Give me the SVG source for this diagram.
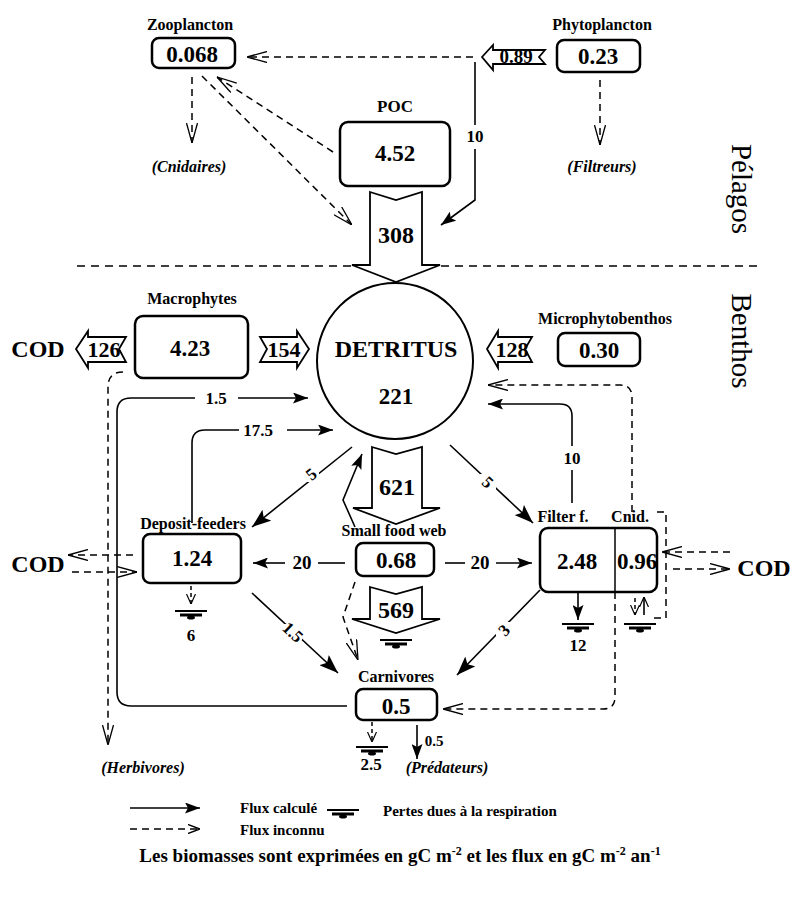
<svg xmlns="http://www.w3.org/2000/svg" xmlns:xlink="http://www.w3.org/1999/xlink" width="790" height="902" viewBox="0 0 790 902">
<style>
text{font-family:"Liberation Serif","Times New Roman",serif;fill:#000}
.lbl{font-weight:bold;font-size:16px;text-anchor:middle}
.leg{font-weight:bold;font-size:15px}
.num{font-weight:bold;font-size:23px;text-anchor:middle}
.big{font-weight:bold;font-size:24px;text-anchor:middle}
.sm{font-weight:bold;font-size:17px;text-anchor:middle}
.it{font-weight:bold;font-style:italic;font-size:16px;text-anchor:middle}
.zone{font-size:29px;text-anchor:middle}
.box{fill:#fff;stroke:#000;stroke-width:2.5}
.ln{fill:none;stroke:#000;stroke-width:1.6}
.dl{fill:none;stroke:#000;stroke-width:1.5;stroke-dasharray:7 5}
.fat{fill:#fff;stroke:#000;stroke-width:1.8;stroke-linejoin:miter}
</style>
<defs>
<marker id="fa" viewBox="0 0 15 11" refX="15" refY="5.5" markerWidth="15" markerHeight="11" markerUnits="userSpaceOnUse" orient="auto"><path d="M0,0 L15,5.5 L0,11 L3,5.5 Z" fill="#000"/></marker>
<marker id="fb" viewBox="0 0 19 14" refX="19" refY="7" markerWidth="19" markerHeight="14" markerUnits="userSpaceOnUse" orient="auto"><path d="M0,0 L19,7 L0,14 L4,7 Z" fill="#000"/></marker>
<marker id="oa" viewBox="0 0 20 12" refX="20" refY="6" markerWidth="20" markerHeight="12" markerUnits="userSpaceOnUse" orient="auto"><path d="M0,0.5 L20,6 L0,11.5" fill="none" stroke="#000" stroke-width="1.3"/></marker>
<marker id="om" viewBox="0 0 12 10" refX="12" refY="5" markerWidth="12" markerHeight="10" markerUnits="userSpaceOnUse" orient="auto"><path d="M0,0.5 L12,5 L0,9.5" fill="none" stroke="#000" stroke-width="1.4"/></marker>
<marker id="os" viewBox="0 0 10 10" refX="10" refY="5" markerWidth="10" markerHeight="10" markerUnits="userSpaceOnUse" orient="auto"><path d="M0,0.5 L10,5 L0,9.5" fill="none" stroke="#000" stroke-width="1.2"/></marker>
<g id="resp">
<line x1="-16" y1="0" x2="16" y2="0" stroke="#000" stroke-width="2"/>
<line x1="-11" y1="4" x2="11" y2="4" stroke="#000" stroke-width="3"/>
<ellipse cx="0" cy="6.5" rx="4" ry="2" fill="#000"/>
</g>
</defs>

<!-- zone separator and zone labels -->
<g id="zones">
<line x1="77" y1="266" x2="760" y2="266" stroke="#000" stroke-width="1.6" stroke-dasharray="8 6"/>
<text class="zone" transform="translate(742,189) rotate(90)" dy="10">Pélagos</text>
<text class="zone" transform="translate(742,341) rotate(90)" dy="10">Benthos</text>
</g>

<!-- connectors -->
<g id="connectors">
<line class="dl" x1="473" y1="57" x2="247" y2="57" marker-end="url(#oa)"/>
<polyline class="ln" points="475,62 475,125"/>
<polyline class="ln" points="475,149 475,200 441,225" marker-end="url(#fa)"/>
<text class="sm" x="475" y="142">10</text>
<line class="dl" x1="192" y1="77" x2="192" y2="143" marker-end="url(#oa)"/>
<line class="dl" x1="333" y1="152" x2="217" y2="77" marker-end="url(#oa)"/>
<line class="dl" x1="202" y1="76" x2="352" y2="225" marker-end="url(#oa)"/>
<line class="dl" x1="600" y1="80" x2="600" y2="145" marker-end="url(#oa)"/>

<path class="ln" d="M347,706 L131,706 Q117,706 117,692 L117,412 Q117,398 131,398 L195,398"/>
<line class="ln" x1="238" y1="398" x2="308" y2="398" marker-end="url(#fa)"/>
<text class="sm" x="216" y="404">1.5</text>
<path class="dl" d="M123,372 Q108,372 108,387 L108,745" marker-end="url(#oa)"/>
<path class="ln" d="M192,523 L192,443 Q192,430 205,430 L239,430"/>
<line class="ln" x1="287" y1="430" x2="333" y2="430" marker-end="url(#fa)"/>
<text class="sm" x="258" y="436">17.5</text>
<line class="ln" x1="352" y1="447" x2="252" y2="527" marker-end="url(#fb)"/>
<rect x="303" y="466" width="16" height="16" fill="#fff"/>
<text class="sm" transform="translate(311,474) rotate(-39)" dy="6">5</text>
<polyline class="ln" points="355,527 343,500 362,454" marker-end="url(#fa)"/>
<line class="ln" x1="450" y1="445" x2="533" y2="523" marker-end="url(#fb)"/>
<rect x="480" y="474" width="16" height="16" fill="#fff"/>
<text class="sm" transform="translate(488,482) rotate(43)" dy="6">5</text>
<path class="ln" d="M572,503 L572,470"/>
<path class="ln" d="M572,446 L572,416 Q572,404 560,404 L488,404" marker-end="url(#fa)"/>
<text class="sm" x="572" y="464">10</text>
<path class="dl" d="M632,512 L632,397 Q632,385 620,385 L488,385" marker-end="url(#oa)"/>
<path class="dl" d="M657,512 L666,512 L666,618 L651,618"/>
<path class="dl" d="M615,592 L615,697 Q615,709 603,709 L443,709" marker-end="url(#oa)"/>
<line class="ln" x1="345" y1="563" x2="318" y2="563"/>
<line class="ln" x1="285" y1="563" x2="253" y2="563" marker-end="url(#fa)"/>
<text class="sm" x="302" y="569" style="font-size:19px">20</text>
<line class="ln" x1="445" y1="563" x2="465" y2="563"/>
<line class="ln" x1="496" y1="563" x2="532" y2="563" marker-end="url(#fa)"/>
<text class="sm" x="480" y="569" style="font-size:19px">20</text>
<line class="dl" x1="133" y1="555" x2="68" y2="555" marker-end="url(#oa)"/>
<line class="dl" x1="72" y1="572" x2="137" y2="572" marker-end="url(#oa)"/>
<line class="dl" x1="730" y1="552" x2="662" y2="552" marker-end="url(#oa)"/>
<line class="dl" x1="673" y1="569" x2="730" y2="569" marker-end="url(#oa)"/>
<line class="ln" x1="252" y1="593" x2="338" y2="673" marker-end="url(#fb)"/>
<rect x="284" y="624" width="18" height="16" fill="#fff"/>
<text class="sm" transform="translate(293,632) rotate(43)" dy="6">1.5</text>
<line class="ln" x1="540" y1="590" x2="457" y2="675" marker-end="url(#fb)"/>
<rect x="496" y="622" width="16" height="16" fill="#fff"/>
<text class="sm" transform="translate(504,630) rotate(-46)" dy="6">3</text>
<polyline class="dl" points="355,582 343,617 358,660" marker-end="url(#oa)"/>
<line class="dl" x1="191" y1="586" x2="191" y2="604" style="stroke-dasharray:4 3" marker-end="url(#os)"/>
<line class="ln" x1="578" y1="592" x2="578" y2="620" marker-end="url(#fa)"/>
<line class="dl" x1="635" y1="598" x2="635" y2="615" style="stroke-dasharray:4 3" marker-end="url(#os)"/>
<line class="ln" x1="644" y1="615" x2="644" y2="597" marker-end="url(#os)"/>
<line class="dl" x1="372" y1="722" x2="372" y2="742" style="stroke-dasharray:4 3" marker-end="url(#os)"/>
<line class="ln" x1="417" y1="725" x2="417" y2="759" marker-end="url(#fa)"/>
</g>

<!-- fat flux arrows -->
<g id="flux308">
<polygon class="fat" points="370,192 396,200 422,192 422,265 440,265 396,282 352,265 370,265"/>
<text class="big" x="396" y="243">308</text>
</g>
<g id="flux621">
<polygon class="fat" points="372,447 396,454 422,447 422,508 440,508 396,524 353,508 372,508"/>
<text class="big" x="397" y="495">621</text>
</g>
<g id="flux569">
<polygon class="fat" points="370,587 396,594 422,587 422,619 440,619 396,633 352,619 370,619"/>
<text class="big" x="396" y="618">569</text>
</g>
<g id="flux089">
<polygon class="fat" points="482,57 493,45 493,50 545,50 539,57 545,64 493,64 493,70"/>
<text class="sm" x="516" y="63" style="font-size:19px">0.89</text>
</g>
<g id="flux126">
<polygon class="fat" points="76,349 88,331 88,337 126,337 119,349 126,362 88,362 88,368"/>
<text class="num" x="104" y="357" style="font-size:22px">126</text>
</g>
<g id="flux154">
<polygon class="fat" points="260,337 297,337 297,331 309,349 297,368 297,362 260,362 267,349"/>
<text class="num" x="284" y="357" style="font-size:22px">154</text>
</g>
<g id="flux128">
<polygon class="fat" points="487,349 498,331 498,337 532,337 525,349 532,362 498,362 498,368"/>
<text class="num" x="512" y="357" style="font-size:22px">128</text>
</g>

<!-- nodes -->
<g id="zooplancton">
<text class="lbl" x="190" y="30">Zooplancton</text>
<rect class="box" x="152" y="38" width="83" height="30" rx="7"/>
<text class="num" x="192" y="62">0.068</text>
<text class="it" x="189" y="172">(Cnidaires)</text>
</g>
<g id="phytoplancton">
<text class="lbl" x="602" y="30">Phytoplancton</text>
<rect class="box" x="557" y="40" width="83" height="32" rx="7"/>
<text class="num" x="598" y="64">0.23</text>
<text class="it" x="602" y="172">(Filtreurs)</text>
</g>
<g id="poc">
<text class="lbl" x="395" y="112" style="font-size:17px">POC</text>
<rect class="box" x="340" y="122" width="110" height="64" rx="8"/>
<text class="num" x="395" y="161">4.52</text>
</g>
<g id="macrophytes">
<text class="lbl" x="192" y="304">Macrophytes</text>
<rect class="box" x="135" y="316" width="113" height="62" rx="8"/>
<text class="num" x="190" y="356">4.23</text>
<text class="big" x="38" y="357">COD</text>
</g>
<g id="detritus">
<circle cx="395" cy="361" r="78" fill="#fff" stroke="#000" stroke-width="2"/>
<text class="big" x="396" y="357">DETRITUS</text>
<text class="num" x="396" y="404">221</text>
</g>
<g id="microphytobenthos">
<text class="lbl" x="605" y="324">Microphytobenthos</text>
<rect class="box" x="558" y="333" width="82" height="33" rx="7"/>
<text class="num" x="599" y="358">0.30</text>
</g>
<g id="deposit-feeders">
<text class="lbl" x="193" y="529">Deposit-feeders</text>
<rect class="box" x="143" y="534" width="98" height="49" rx="7"/>
<text class="num" x="192" y="566">1.24</text>
<text class="big" x="38" y="572">COD</text>
<use xlink:href="#resp" x="191" y="611"/>
<text class="sm" x="191" y="641">6</text>
</g>
<g id="small-food-web">
<text class="lbl" x="394" y="536">Small food web</text>
<rect class="box" x="356" y="543" width="78" height="33" rx="7"/>
<text class="num" x="396" y="568">0.68</text>
<use xlink:href="#resp" x="396" y="640"/>
</g>
<g id="filter-cnid">
<text class="lbl" x="563" y="522">Filter f.</text>
<text class="lbl" x="630" y="522">Cnid.</text>
<rect class="box" x="540" y="528" width="117" height="64" rx="8"/>
<line x1="615" y1="528" x2="615" y2="592" stroke="#000" stroke-width="1.5"/>
<text class="num" x="577" y="569">2.48</text>
<text class="num" x="637" y="569">0.96</text>
<text class="big" x="764" y="576">COD</text>
<use xlink:href="#resp" x="578" y="624"/>
<text class="sm" x="578" y="651">12</text>
<use xlink:href="#resp" x="640" y="624"/>
</g>
<g id="carnivores">
<text class="lbl" x="396" y="682">Carnivores</text>
<rect class="box" x="356" y="689" width="81" height="31" rx="7"/>
<text class="num" x="396" y="714">0.5</text>
<use xlink:href="#resp" x="372" y="747"/>
<text class="sm" x="371" y="770">2.5</text>
<text class="sm" x="434" y="746" style="font-size:15px">0.5</text>
<text class="it" x="447" y="773">(Prédateurs)</text>
<text class="it" x="143" y="773">(Herbivores)</text>
</g>

<!-- legend -->
<g id="legend">
<line class="ln" x1="130" y1="808" x2="200" y2="808" marker-end="url(#fa)"/>
<text class="leg" x="240" y="813">Flux calculé</text>
<line class="dl" x1="130" y1="829" x2="200" y2="829" marker-end="url(#om)"/>
<text class="leg" x="240" y="835">Flux inconnu</text>
<use xlink:href="#resp" x="343" y="810"/>
<text class="leg" x="383" y="816">Pertes dues à la respiration</text>
<text class="lbl" x="400" y="862" style="font-size:19px">Les biomasses sont exprimées en gC m<tspan dy="-7" style="font-size:12px">-2</tspan><tspan dy="7"> et les flux en gC m</tspan><tspan dy="-7" style="font-size:12px">-2</tspan><tspan dy="7"> an</tspan><tspan dy="-7" style="font-size:12px">-1</tspan></text>
</g>
</svg>
